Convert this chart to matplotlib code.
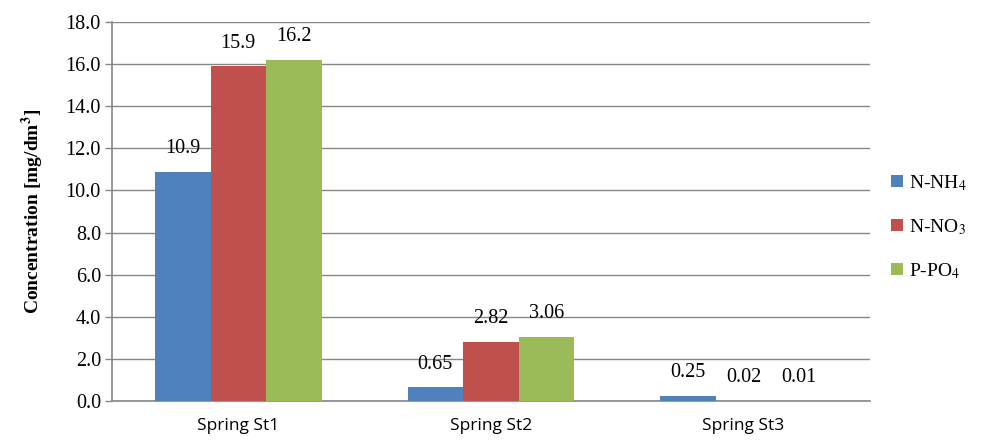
import numpy as np
import matplotlib
matplotlib.use("Agg")
import matplotlib.pyplot as plt


stations = ["Spring St1", "Spring St2", "Spring St3"]
series_names = ["N-NH$_4$", "N-NO$_3$", "P-PO$_4$"]
nh4 = [10.9, 0.65, 0.25]
no3 = [15.9, 2.82, 0.02]
po4 = [16.2, 3.06, 0.01]
value_labels = [
    ["10.9", "0.65", "0.25"],
    ["15.9", "2.82", "0.02"],
    ["16.2", "3.06", "0.01"],
]
yticks = np.arange(0, 18.1, 2.0)

colors = ["#4F81BD", "#C0504D", "#9BBB59"]
grid_color = "#868686"

plt.rcParams["mathtext.fontset"] = "stix"
serif = "Liberation Serif"

fig = plt.figure(figsize=(9.85, 4.4), dpi=100)
ax = fig.add_axes([0.1137, 0.0886, 0.7693, 0.8614])

x = np.arange(len(stations))
bar_w = 0.22
offsets = [-bar_w, 0.0, bar_w]

for values, labels, name, color, off in zip([nh4, no3, po4], value_labels,
                                            series_names, colors, offsets):
    bars = ax.bar(x + off, values, width=bar_w, color=color, label=name,
                  zorder=3)
    for rect, lab in zip(bars, labels):
        ax.text(rect.get_x() + rect.get_width() / 2,
                rect.get_height() + 0.65, lab,
                ha="center", va="bottom", fontsize=14.5, family=serif,
                zorder=4)

ax.set_xlim(-0.5, 2.5)
ax.set_ylim(0, 18)
ax.set_yticks(yticks)
ax.set_yticklabels([f"{v:.1f}" for v in yticks], family=serif, fontsize=14.5)
ax.set_xticks(x)
ax.set_xticklabels(stations, family="Open Sans", fontsize=12.5)
ax.tick_params(axis="x", length=0, pad=12)
ax.tick_params(axis="y", length=5, color=grid_color, width=1, pad=3)

ax.yaxis.grid(True, color=grid_color, linewidth=1)
ax.set_axisbelow(True)
for side in ["top", "right"]:
    ax.spines[side].set_visible(False)
for side in ["left", "bottom"]:
    ax.spines[side].set_color(grid_color)
    ax.spines[side].set_linewidth(1.2)

ax.set_ylabel("Concentration [mg/dm$^\\mathbf{3}$]", family=serif,
              fontweight="bold", fontsize=14, labelpad=14)

leg = ax.legend(loc="center left", bbox_to_anchor=(1.005, 0.46),
                frameon=False, prop={"family": serif, "size": 14},
                handlelength=0.6, handleheight=0.6, handletextpad=0.3,
                labelspacing=1.25)

fig.savefig("out.png", dpi=100)
